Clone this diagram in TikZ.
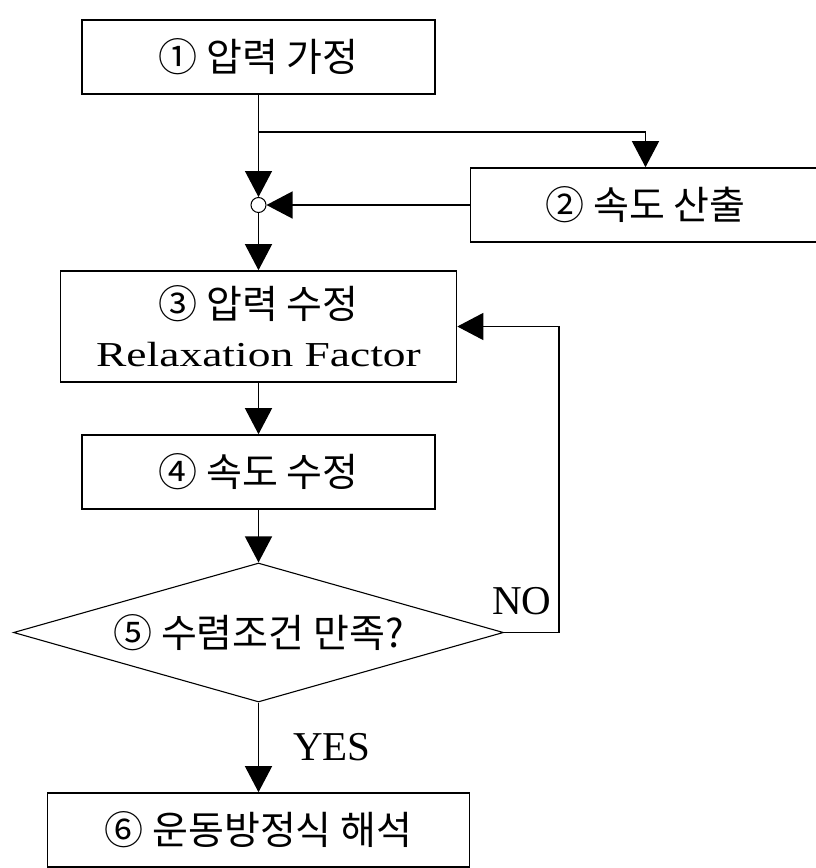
\documentclass[tikz,border=0pt]{standalone}
\usepackage{fontspec}
\setmainfont{Liberation Serif}
\newfontfamily\kor{Noto Sans CJK KR}
\newfontfamily\wide[FakeStretch=1.3]{Liberation Serif}
\usetikzlibrary{shapes.geometric, arrows.meta}

\begin{document}
\begin{tikzpicture}[x=1pt, y=-1pt, >={Triangle[length=26pt,width=27pt]}]
\tikzset{
  block/.style = {rectangle, draw, line width=1.6pt, minimum width=353pt, minimum height=74pt, inner sep=0pt, align=center, font=\kor\fontsize{39}{48}\selectfont},
  decision/.style = {diamond, draw, line width=1.1pt, minimum width=490pt, minimum height=139pt, inner sep=0pt, shape aspect=3.5, font=\kor\fontsize{39}{48}\selectfont},
  line/.style = {draw, line width=1.3pt, ->},
  tag/.style = {inner sep=0pt, font=\fontsize{41}{48}\selectfont}
}
\useasboundingbox (0,0) rectangle (816,868);
\node [block] (guess) at (258.5,57) {① 압력 가정};
\coordinate [below of=guess, node distance=75pt] (split);
\node [circle, draw, line width=1pt, minimum size=15pt, inner sep=0pt, below of=guess, node distance=148pt] (junction) {};
\node [block, right of=junction, node distance=387pt, minimum width=350pt] (velocity) {② 속도 산출};
\node [block, below of=junction, node distance=121.5pt, minimum width=396pt, minimum height=111pt] (fix) {③ 압력 수정\\{\wide\fontsize{35}{48}\selectfont Relaxation Factor}};
\node [block, below of=fix, node distance=145.5pt] (update) {④ 속도 수정};
\node [decision, below of=update, node distance=160.5pt] (check) {⑤ 수렴조건 만족?};
\node [block, below of=check, node distance=197.5pt, minimum width=422pt] (solve) {⑥ 운동방정식 해석};
\path [line] (guess) -- (junction);
\path [line] (split) -| (velocity);
\path [line] (velocity) -- (junction);
\path [line] (junction) -- (fix);
\path [line] (fix) -- (update);
\path [line] (update) -- (check);
\path [line] (check) -- node [tag, anchor=west, xshift=34pt] {YES} (solve);
\path [line] (check.east) -- ++(55,0) node [tag, anchor=south east, xshift=-7pt, yshift=17pt] {NO} |- (fix.east);
\end{tikzpicture}
\end{document}
